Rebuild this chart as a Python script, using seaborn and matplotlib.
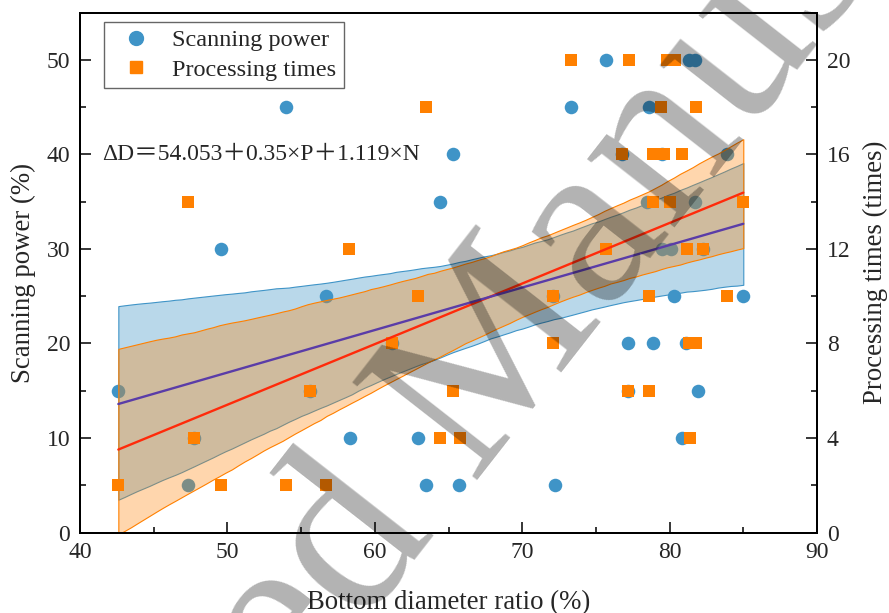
import numpy as np
import pandas as pd
import matplotlib
matplotlib.use("Agg")
import matplotlib.pyplot as plt
from matplotlib.ticker import MultipleLocator
from matplotlib.lines import Line2D
import seaborn as sns

# ----------------------------
# Data
# (a few blue points sit hidden under orange squares)
# ----------------------------
power_ratio = [42.6, 47.3, 47.75, 49.55, 54.0, 55.6, 56.7, 58.3, 61.2, 62.9,
               63.5, 64.4, 65.3, 65.7, 72.1, 72.2, 73.3, 75.7, 76.8, 77.2,
               77.2, 78.5, 78.6, 78.85, 79.5, 79.5, 80.1, 80.3, 80.85, 81.1,
               81.3, 81.75, 81.75, 81.9, 82.3, 83.9, 85.0]
scan_power = [15, 5, 10, 30, 45, 15, 25, 10, 20, 10,
              5, 35, 40, 5, 25, 5, 45, 50, 40, 20,
              15, 35, 45, 20, 40, 30, 30, 25, 10, 20,
              50, 50, 35, 15, 30, 40, 25]

times_ratio = [42.6, 47.35, 47.75, 49.55, 54.0, 55.6, 56.7, 58.25, 61.2, 62.9,
               63.5, 64.45, 65.3, 65.75, 72.1, 72.1, 73.3, 75.7, 76.8, 77.2,
               77.25, 78.6, 78.6, 78.85, 78.9, 79.45, 79.6, 79.8, 80.05, 80.4,
               80.85, 81.15, 81.3, 81.4, 81.8, 81.8, 82.3, 83.9, 85.0]
proc_times = [2, 14, 4, 2, 2, 6, 2, 12, 8, 10,
              18, 4, 6, 4, 10, 8, 20, 12, 16, 6,
              20, 10, 6, 16, 14, 18, 16, 20, 14, 20,
              16, 12, 8, 4, 8, 18, 12, 10, 14]

equation = "ΔD＝54.053＋0.35×P＋1.119×N"

blue = "#3F94C7"
orange = "#FF8000"
purple = "#5A3CA8"

df_p = pd.DataFrame({"ratio": power_ratio, "power": scan_power})
df_t = pd.DataFrame({"ratio": times_ratio, "times": proc_times})

sns.set_style("ticks")
plt.rcParams["font.family"] = ["Liberation Serif", "Noto Sans CJK SC"]

fig = plt.figure(figsize=(8.89, 6.13), dpi=100)
ax = fig.add_axes([0.09, 0.1313, 0.829, 0.848])
ax2 = ax.twinx()

# Scanning power on the left axis
sns.regplot(data=df_p, x="ratio", y="power", ax=ax, ci=95, n_boot=3000, seed=3,
            marker="o", color=blue,
            scatter_kws={"s": 95, "color": blue, "alpha": 1, "linewidths": 0},
            line_kws={"color": purple, "lw": 1.7})
band = ax.collections[-1]
band.set_alpha(None)
band.set_facecolor((63/255, 148/255, 199/255, 0.36))
band.set_edgecolor(blue)
band.set_linewidth(0.8)

# Processing times on the right axis
sns.regplot(data=df_t, x="ratio", y="times", ax=ax2, ci=95, n_boot=3000, seed=3,
            marker="s", color=orange,
            scatter_kws={"s": 85, "color": orange, "alpha": 1, "linewidths": 0},
            line_kws={"color": "#FF2A0A", "lw": 1.7})
band2 = ax2.collections[-1]
band2.set_alpha(None)
band2.set_facecolor((1.0, 0.5, 0.0, 0.32))
band2.set_edgecolor(orange)
band2.set_linewidth(0.8)

# keep the purple fit line on top of the orange band
fit_line = ax.lines[-1]
fit_line.set_visible(False)
ax2.plot(fit_line.get_xdata(), fit_line.get_ydata(), color=purple, lw=1.7,
         transform=ax.transData, zorder=2)

ax.set_xlim(40, 90)
ax.set_ylim(0, 55)
ax2.set_ylim(0, 22)

ax.xaxis.set_major_locator(MultipleLocator(10))
ax.xaxis.set_minor_locator(MultipleLocator(5))
ax.yaxis.set_major_locator(MultipleLocator(10))
ax.yaxis.set_minor_locator(MultipleLocator(5))
ax2.yaxis.set_major_locator(MultipleLocator(4))
ax2.yaxis.set_minor_locator(MultipleLocator(2))

for a in (ax, ax2):
    a.tick_params(which="major", direction="in", length=8, width=1.3,
                  labelsize=17, pad=7)
    a.tick_params(which="minor", direction="in", length=4.5, width=1.3)
    for sp in a.spines.values():
        sp.set_linewidth(1.4)
        sp.set_color("black")
ax.tick_params(top=False, right=False, which="both")
ax2.tick_params(left=False, which="both")

ax.set_xlabel("Bottom diameter ratio (%)", fontsize=19.3, labelpad=19)
ax.set_ylabel("Scanning power (%)", fontsize=19.3, labelpad=8)
ax2.set_ylabel("Processing times (times)", fontsize=19.3, labelpad=9)

ax.text(41.5, 40, equation, fontsize=17, va="center", ha="left")

handles = [
    Line2D([], [], marker="o", ls="none", color=blue, markersize=10),
    Line2D([], [], marker="s", ls="none", color=orange, markersize=9),
]
leg = ax2.legend(handles, ["Scanning power", "Processing times"],
                 loc="upper left", bbox_to_anchor=(0.033, 0.982),
                 borderaxespad=0, fontsize=17.5, frameon=True, fancybox=False,
                 framealpha=1, edgecolor="#666666", handletextpad=0.5,
                 borderpad=0.3, labelspacing=0.3)
leg.get_frame().set_linewidth(1.0)

# Manuscript watermark
fig.text(0.525, 0.35, "Accepted Manuscript", fontsize=174, rotation=52,
         color="black", alpha=0.3, ha="center", va="center",
         family="Liberation Serif")

fig.savefig("out.png", dpi=100)
